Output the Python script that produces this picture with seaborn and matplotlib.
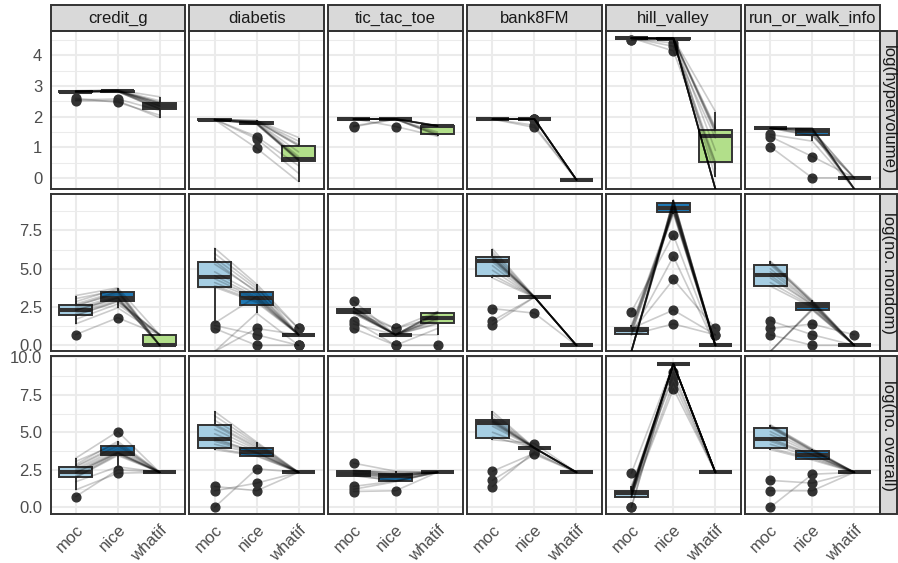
import numpy as np
import pandas as pd
import matplotlib.pyplot as plt
import seaborn as sns
from matplotlib.patches import Rectangle

NEG = -np.inf  # log(0), drawn at the panel floor like ggplot does

methods = ['moc', 'nice', 'whatif']
datasets = ['credit_g', 'diabetis', 'tic_tac_toe', 'bank8FM', 'hill_valley', 'run_or_walk_info']
metrics = ['log(hypervolume)', 'log(no. nondom)', 'log(no. overall)']
box_colors = {'moc': '#A6CEE3', 'nice': '#1F78B4', 'whatif': '#B2DF8A'}

# ---- log(hypervolume): (moc, nice, whatif) per instance ----
hv_credit_g = (
    [2.82, 2.84, 2.80, 2.83, 2.55, 2.81, 2.85, 2.82, 2.60, 2.83, 2.80, 2.84, 2.82, 2.52, 2.81, 2.83],
    [2.83, 2.85, 2.82, 2.86, 2.58, 2.84, 2.87, 2.83, 2.47, 2.84, 2.82, 2.86, 2.85, 2.52, 2.83, 2.85],
    [2.42, 2.47, 2.28, 2.40, 2.20, 2.35, 2.65, 2.25, 2.05, 2.45, 2.24, 2.52, 2.36, 1.97, 2.33, 2.46])
hv_diabetis = (
    [1.90, 1.91, 1.90, 1.90, 1.91, 1.90, 1.90, 1.91, 1.90, 1.90, 1.91, 1.90, 1.90, 1.91, 1.90, 1.90],
    [1.85, 1.80, 1.78, 1.88, 1.35, 1.82, 1.76, 1.87, 0.97, 1.79, 1.84, 1.75, 1.81, 1.28, 1.86, 1.77],
    [1.04, 0.60, 0.57, 1.32, 0.40, 0.85, 0.56, 1.20, -0.12, 0.61, 1.06, 0.58, 0.70, 0.15, 1.10, 0.64])
hv_tic_tac_toe = (
    [1.92, 1.93, 1.92, 1.70, 1.92, 1.93, 1.92, 1.92, 1.93, 1.67, 1.92, 1.92, 1.93, 1.92, 1.92, 1.93],
    [1.93, 1.92, 1.93, 1.92, 1.92, 1.92, 1.93, 1.92, 1.68, 1.92, 1.93, 1.92, 1.92, 1.93, 1.92, 1.92],
    [1.70, 1.40, 1.70, 1.38, 1.69, 1.71, 1.45, 1.70, 1.36, 1.69, 1.70, 1.50, 1.71, 1.70, 1.42, 1.69])
hv_bank8FM = (
    [1.92, 1.92, 1.92, 1.92, 1.92, 1.92, 1.92, 1.92, 1.92, 1.92, 1.92, 1.92, 1.92, 1.92, 1.92, 1.92],
    [1.92, 1.93, 1.92, 1.92, 1.65, 1.92, 1.93, 1.92, 1.92, 1.92, 1.72, 1.93, 1.92, 1.92, 1.92, 1.93],
    [-0.06, -0.06, -0.06, -0.06, -0.06, -0.06, -0.06, -0.06,
     -0.06, -0.06, -0.06, -0.06, -0.06, -0.06, -0.06, -0.06])
hv_hill_valley = (
    [4.57, 4.56, 4.57, 4.57, 4.50, 4.56, 4.57, 4.57, 4.56, 4.57, 4.57, 4.56,
     4.57, 4.57, 4.56, 4.57, 4.57, 4.56, 4.57, 4.57, 4.50, 4.57, 4.56, 4.57],
    [4.55, 4.56, 4.55, 4.40, 4.55, 4.56, 4.55, 4.30, 4.55, 4.56, 4.55, 4.55,
     4.15, 4.56, 4.55, 4.55, 4.56, 4.55, 4.55, 4.56, 4.55, 4.55, 4.56, 4.55],
    [NEG, 1.45, NEG, 0.52, NEG, 2.17, NEG, 1.30, NEG, 0.04, NEG, 1.60,
     0.48, NEG, 1.55, NEG, 0.90, NEG, 1.50, NEG, 0.30, NEG, 1.65, NEG])
hv_run_or_walk_info = (
    [1.62, 1.63, 1.62, 1.42, 1.62, 1.63, 1.02, 1.62, 1.63, 1.62, 1.35, 1.62, 1.63, 1.62, 1.62, 1.63],
    [1.58, 1.62, 1.40, 1.20, 1.60, 1.55, 0.00, 1.63, 1.37, 1.52, 0.70, 1.61, 1.45, 1.56, 1.62, 1.50],
    [NEG, NEG, 0.00, NEG, NEG, 0.00, 0.00, NEG, 0.00, NEG, 0.00, NEG, NEG, 0.00, NEG, NEG])

# ---- log(no. nondom) ----
nd_credit_g = (
    [2.30, 1.95, 2.70, 0.70, 2.45, 3.05, 2.10, 2.62, 1.40, 2.32, 2.85, 1.97, 2.55, 3.25, 2.25, 1.70],
    [3.10, 2.85, 3.52, 1.80, 3.20, 3.60, 2.95, 3.35, 2.45, 3.12, 3.70, 2.88, 3.48, 3.75, 3.05, 2.70],
    [0.00, 0.69, 0.00, 0.69, 0.00, 0.00, 0.69, 0.00, 0.69, 0.00, 0.00, 0.69, 0.00, 0.69, 0.00, 0.69])
nd_diabetis = (
    [4.35, 5.50, NEG, 3.90, 1.30, 4.80, 6.35, 3.80, 5.30, 1.10, 4.10, 5.70, NEG, 4.55, 1.45, 6.00],
    [3.05, 3.45, 2.10, 2.90, 0.69, 3.30, 4.00, 2.80, 3.55, 0.00, 3.00, 3.70, 1.10, 3.15, 3.20, 3.85],
    [0.69, 0.69, 0.00, 0.69, 0.00, 0.69, 1.10, 0.69, 0.69, 0.00, 0.69, 1.10, 0.69, 0.69, 0.69, 0.69])
nd_tic_tac_toe = (
    [2.20, 1.10, 2.30, 2.08, 2.45, 1.39, 2.15, 2.40, 2.89, 2.18, 1.61, 2.25, 2.42, 2.10, 2.48, 2.20],
    [0.69, 0.00, 0.69, 0.69, 0.69, 0.69, 1.10, 0.69, 0.69, 0.69, 0.00, 0.69, 1.10, 0.69, 0.69, 0.69],
    [1.75, 0.00, 2.08, 1.61, 2.20, 0.69, 1.85, 1.95, 2.15, 1.45, 1.10, 1.70, 2.20, 1.39, 2.10, 1.79])
nd_bank8FM = (
    [5.60, 4.60, 2.40, 5.82, 6.30, 5.20, 1.35, 5.70, 4.90, 5.95, 4.40, 5.65, 1.60, 5.78, 6.10, 5.45],
    [3.14, 3.16, 2.10, 3.15, 3.17, 3.14, 3.15, 3.16, 3.14, 3.15, 3.13, 3.16, 3.15, 3.14, 3.17, 3.15],
    [0.00, 0.00, 0.00, 0.00, 0.00, 0.00, 0.00, 0.00, 0.00, 0.00, 0.00, 0.00, 0.00, 0.00, 0.00, 0.00])
nd_hill_valley = (
    [NEG, 0.69, NEG, 0.95, NEG, 1.10, NEG, 0.69, 2.20, NEG, 0.85, NEG,
     1.20, NEG, 0.69, NEG, 1.30, NEG, 0.75, NEG, 1.00, NEG, 1.15, NEG],
    [9.00, 1.40, 9.20, 8.60, 9.35, 2.30, 9.45, 8.80, 7.20, 9.10, 4.30, 9.50,
     8.70, 9.25, 5.80, 9.05, 8.95, 9.40, 8.75, 9.30, 8.85, 9.48, 8.90, 9.15],
    [0.00, 0.69, 0.00, 0.00, 0.00, 0.69, 0.00, 0.00, 0.00, 0.00, 1.10, 0.00,
     0.00, 0.00, 0.00, 0.00, 0.00, 0.00, 0.00, 0.00, 0.00, 0.00, 0.00, 0.00])
nd_run_or_walk_info = (
    [4.57, NEG, 5.26, 1.10, 3.87, 5.50, NEG, 4.80, 0.69, 5.00, 4.10, 5.35, 1.61, NEG, 4.40, 5.45],
    [2.64, 2.40, 2.83, 1.39, 2.48, 2.94, 2.30, 2.71, 0.00, 2.77, 2.56, 2.89, 0.69, 2.35, 2.64, 2.80],
    [0.00, 0.00, 0.00, 0.69, 0.00, 0.00, 0.00, 0.00, 0.00, 0.00, 0.00, 0.00, 0.00, 0.00, 0.00, 0.00])

# ---- log(no. overall) ----
ov_credit_g = (
    [2.30, 1.97, 2.68, 0.71, 2.45, 3.05, 2.10, 2.55, 1.16, 2.35, 2.85, 2.00, 2.75, 3.27, 2.25, 1.70],
    [3.64, 3.45, 4.05, 2.50, 3.75, 4.25, 3.58, 3.90, 2.27, 3.66, 4.39, 3.52, 4.15, 5.05, 3.62, 2.70],
    [2.33, 2.33, 2.33, 2.33, 2.33, 2.33, 2.33, 2.33, 2.33, 2.33, 2.33, 2.33, 2.33, 2.33, 2.33, 2.33])
ov_diabetis = (
    [4.40, 5.45, 0.00, 3.95, 5.20, 4.60, 6.39, 3.85, 1.10, 5.55, 4.20, 5.80, 4.90, 1.39, 4.50, 6.10],
    [3.60, 3.95, 2.56, 3.45, 3.85, 3.65, 4.35, 3.40, 1.61, 4.05, 3.55, 4.15, 3.75, 1.10, 3.68, 4.25],
    [2.33, 2.33, 2.33, 2.33, 2.33, 2.33, 2.33, 2.33, 2.33, 2.33, 2.33, 2.33, 2.33, 2.33, 2.33, 2.33])
ov_tic_tac_toe = (
    [2.25, 1.05, 2.30, 2.10, 2.45, 1.39, 2.18, 2.40, 2.94, 2.20, 1.20, 2.25, 2.42, 2.12, 2.48, 2.35],
    [2.05, 1.10, 2.20, 1.78, 2.30, 1.75, 2.00, 2.15, 2.40, 1.90, 1.70, 2.08, 2.35, 1.76, 2.20, 2.10],
    [2.33, 2.33, 2.33, 2.33, 2.33, 2.33, 2.33, 2.33, 2.33, 2.33, 2.33, 2.33, 2.33, 2.33, 2.33, 2.33])
ov_bank8FM = (
    [5.65, 4.70, 2.40, 5.88, 6.39, 5.40, 1.38, 5.75, 5.00, 6.00, 4.50, 5.70, 1.80, 5.82, 6.20, 5.55],
    [3.95, 3.94, 3.60, 3.95, 3.96, 3.94, 3.70, 3.95, 3.94, 3.96, 4.25, 3.95, 3.52, 3.94, 3.95, 3.96],
    [2.33, 2.33, 2.33, 2.33, 2.33, 2.33, 2.33, 2.33, 2.33, 2.33, 2.33, 2.33, 2.33, 2.33, 2.33, 2.33])
ov_hill_valley = (
    [0.90, 0.69, 1.10, 0.00, 0.95, 0.69, 1.20, 0.80, 2.27, 1.05, 0.69, 1.10,
     0.85, 0.00, 1.30, 0.69, 0.90, 1.10, 0.75, 1.40, 0.95, 0.69, 1.00, 1.10],
    [9.55, 9.56, 9.57, 9.55, 9.56, 9.00, 9.55, 9.57, 9.56, 9.55, 8.30, 9.56,
     9.57, 9.55, 9.56, 7.90, 9.55, 9.57, 9.56, 8.70, 9.55, 9.56, 9.57, 9.55],
    [2.33, 2.33, 2.33, 2.33, 2.33, 2.33, 2.33, 2.33, 2.33, 2.33, 2.33, 2.33,
     2.33, 2.33, 2.33, 2.33, 2.33, 2.33, 2.33, 2.33, 2.33, 2.33, 2.33, 2.33])
ov_run_or_walk_info = (
    [4.50, 5.30, 0.00, 3.95, 5.45, 4.85, 1.10, 4.20, 5.50, 5.05, 3.85, 1.79, 5.35, 4.40, 4.60, 5.40],
    [3.50, 3.75, 2.20, 3.25, 3.85, 3.60, 1.10, 3.35, 3.90, 3.70, 3.15, 1.61, 3.78, 3.45, 3.52, 3.80],
    [2.33, 2.33, 2.33, 2.33, 2.33, 2.33, 2.33, 2.33, 2.33, 2.33, 2.33, 2.33, 2.33, 2.33, 2.33, 2.33])

panel_data = {
    'log(hypervolume)': [hv_credit_g, hv_diabetis, hv_tic_tac_toe, hv_bank8FM, hv_hill_valley, hv_run_or_walk_info],
    'log(no. nondom)': [nd_credit_g, nd_diabetis, nd_tic_tac_toe, nd_bank8FM, nd_hill_valley, nd_run_or_walk_info],
    'log(no. overall)': [ov_credit_g, ov_diabetis, ov_tic_tac_toe, ov_bank8FM, ov_hill_valley, ov_run_or_walk_info],
}

y_limits = [(-0.36, 4.80), (-0.40, 9.91), (-0.45, 10.08)]
y_major = [[0, 1, 2, 3, 4], [0, 2.5, 5, 7.5], [0, 2.5, 5, 7.5, 10]]
y_minor = [[0.5, 1.5, 2.5, 3.5, 4.5], [1.25, 3.75, 6.25, 8.75], [1.25, 3.75, 6.25, 8.75]]
y_fmt = ['{:.0f}', '{:.1f}', '{:.1f}']

# long table
records = []
for metric in metrics:
    for ds, triple in zip(datasets, panel_data[metric]):
        for m, vals in zip(methods, triple):
            for i, v in enumerate(vals):
                records.append((metric, ds, m, methods.index(m), i, v))
df = pd.DataFrame(records, columns=['metric', 'dataset', 'method', 'pos', 'inst', 'value'])

sns.set_style('white')
plt.rcParams['font.family'] = ['Liberation Sans', 'DejaVu Sans']

W, H = 898, 563
fig, axes = plt.subplots(3, 6, figsize=(W / 100, H / 100), dpi=100)
fig.subplots_adjust(left=50.5 / W, right=879.5 / W, top=1 - 31 / H, bottom=1 - 514 / H,
                    wspace=0.0335, hspace=0.029)

dark = '#333333'
for r, metric in enumerate(metrics):
    ylo, yhi = y_limits[r]
    for c, ds in enumerate(datasets):
        ax = axes[r, c]
        sub = df[(df.metric == metric) & (df.dataset == ds)]
        fin = sub[np.isfinite(sub.value)]

        sns.boxplot(data=fin, x='pos', y='value', hue='method', hue_order=methods,
                    palette=box_colors, native_scale=True, dodge=False, saturation=1,
                    width=0.78, linewidth=1.4, linecolor=dark, fliersize=6.3,
                    flierprops=dict(marker='o', markerfacecolor=dark, markeredgecolor=dark),
                    medianprops=dict(linewidth=2.9, color=dark),
                    capprops=dict(linewidth=0), legend=False, ax=ax)

        lines = sub.assign(value=sub.value.clip(lower=ylo))
        sns.lineplot(data=lines, x='pos', y='value', units='inst', estimator=None,
                     color='black', alpha=0.2, linewidth=1.2, legend=False,
                     zorder=4, ax=ax)

        ax.set_xlim(-0.6, 2.6)
        ax.set_ylim(ylo, yhi)
        ax.set_xticks([0, 1, 2])
        ax.set_yticks(y_major[r])
        ax.set_yticks(y_minor[r], minor=True)
        ax.set_axisbelow(True)
        ax.grid(which='major', color='#EBEBEB', linewidth=1.45)
        ax.grid(which='minor', axis='y', color='#EBEBEB', linewidth=0.75)
        ax.set_xlabel('')
        ax.set_ylabel('')
        for sp in ax.spines.values():
            sp.set_visible(True)
            sp.set_color(dark)
            sp.set_linewidth(1.4)

        ax.tick_params(which='minor', length=0)
        ax.tick_params(which='major', length=4, width=1.1, color=dark,
                       labelcolor='#4D4D4D', labelsize=12, pad=2)
        if c == 0:
            ax.set_yticklabels([y_fmt[r].format(t) for t in y_major[r]])
        else:
            ax.tick_params(axis='y', left=False, labelleft=False)
        if r == 2:
            ax.set_xticklabels(methods, rotation=45, ha='right', va='top',
                               rotation_mode='anchor')
        else:
            ax.tick_params(axis='x', bottom=False, labelbottom=False)

        # strips
        if r == 0:
            sh = 26 / 158
            ax.add_patch(Rectangle((0, 1), 1, sh, transform=ax.transAxes, clip_on=False,
                                   facecolor='#D9D9D9', edgecolor=dark, linewidth=1.4))
            ax.text(0.5, 1 + sh / 2, ds, transform=ax.transAxes, ha='center',
                    va='center', fontsize=12, color='#1A1A1A')
        if c == 5:
            sw = 17.5 / 134.4
            ax.add_patch(Rectangle((1, 0), sw, 1, transform=ax.transAxes, clip_on=False,
                                   facecolor='#D9D9D9', edgecolor=dark, linewidth=1.4))
            ax.text(1 + sw / 2, 0.5, metric, transform=ax.transAxes, ha='center',
                    va='center', rotation=-90, fontsize=12, color='#1A1A1A')

fig.savefig('out.png', dpi=100)
